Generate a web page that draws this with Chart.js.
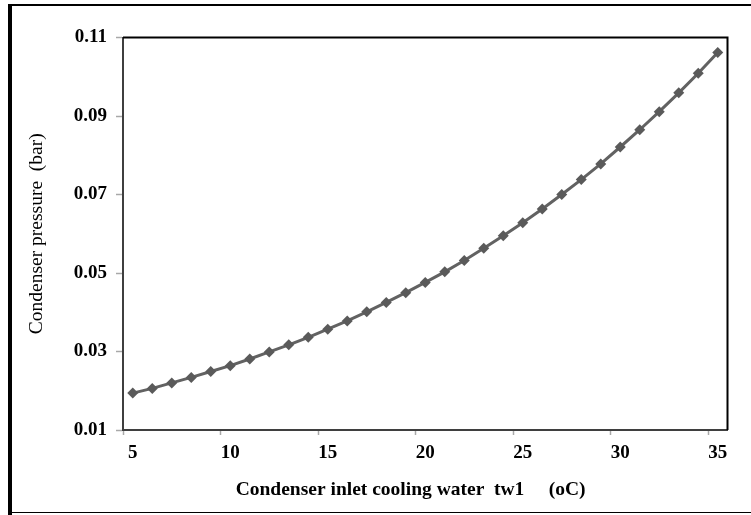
<!DOCTYPE html>
<html>
<head>
<meta charset="utf-8">
<script src="https://cdn.jsdelivr.net/npm/chart.js@4/dist/chart.umd.min.js"></script>
<style>
  html, body { margin: 0; padding: 0; background: #fff; }
  #wrap { width: 751px; height: 515px; position: relative; }
</style>
</head>
<body>
<div id="wrap"><canvas id="c" width="751" height="515"></canvas></div>
<script>
// Condenser inlet cooling water temperature tw1 (oC)
const temperatures = [5,6,7,8,9,10,11,12,13,14,15,16,17,18,19,20,21,22,23,24,25,26,27,28,29,30,31,32,33,34,35];
// Condenser pressure (bar)
const pressures = [0.0194,0.0206,0.0220,0.0234,0.0249,0.0264,0.0281,0.0299,0.0317,0.0336,0.0357,0.0378,0.0401,0.0425,0.0450,0.0476,0.0503,0.0532,0.0563,0.0595,0.0628,0.0663,0.0700,0.0738,0.0778,0.0821,0.0865,0.0911,0.0959,0.1009,0.1062];
const xLabelEvery = 5;
const yTicks = [0.01, 0.03, 0.05, 0.07, 0.09, 0.11];

const PAD = { left: 14, right: 23.5, top: 37.5, bottom: 8 };
const CHART_LEFT = 123, CHART_BOTTOM = 430;

const framePlugin = {
  id: 'frame',
  beforeDraw(chart) {
    const c = chart.ctx;
    c.save();
    c.fillStyle = '#fff';
    c.fillRect(0, 0, chart.width, chart.height);
    c.restore();
  },
  afterDraw(chart) {
    const c = chart.ctx, a = chart.chartArea;
    c.save();
    c.strokeStyle = '#000';
    c.lineWidth = 2;
    c.beginPath();
    c.moveTo(a.left, a.top);
    c.lineTo(a.right, a.top);
    c.lineTo(a.right, a.bottom);
    c.stroke();
    c.lineWidth = 4;
    c.beginPath();
    c.moveTo(10, 4);
    c.lineTo(10, 515);
    c.stroke();
    c.lineWidth = 2;
    c.beginPath();
    c.moveTo(8, 5);
    c.lineTo(751, 5);
    c.stroke();
    c.lineWidth = 1.2;
    c.beginPath();
    c.moveTo(8, 512.5);
    c.lineTo(751, 512.5);
    c.stroke();
    c.restore();
  }
};

new Chart(document.getElementById('c'), {
  type: 'line',
  data: {
    labels: temperatures,
    datasets: [{
      data: pressures,
      borderColor: '#626262',
      backgroundColor: '#5a5a5a',
      borderWidth: 3,
      pointStyle: 'rectRot',
      pointRadius: 5.5,
      pointBorderWidth: 0,
      pointBackgroundColor: '#5a5a5a',
      tension: 0,
      clip: false
    }]
  },
  options: {
    responsive: false,
    animation: false,
    layout: { padding: PAD },
    plugins: { legend: { display: false }, tooltip: { enabled: false } },
    scales: {
      x: {
        type: 'category',
        offset: true,
        afterFit(s) { s.height = 515 - CHART_BOTTOM - PAD.bottom; },
        grid: {
          offset: true,
          drawOnChartArea: false,
          drawTicks: true,
          tickLength: 5,
          tickWidth: 1.5,
          tickColor: (ctx) => (ctx.index % xLabelEvery === 0 && ctx.index < temperatures.length) ? '#a8a8a8' : 'rgba(0,0,0,0)'
        },
        border: { color: '#3f3f3f', width: 2 },
        ticks: {
          autoSkip: false,
          maxRotation: 0,
          padding: 7,
          color: '#000',
          font: { family: 'Liberation Serif', weight: 'bold', size: 19 },
          callback: (v, i) => (i % xLabelEvery === 0 ? String(temperatures[i]) : '')
        },
        title: {
          display: true,
          text: 'Condenser inlet cooling water  tw1     (oC)      ',
          color: '#000',
          font: { family: 'Liberation Serif', weight: 'bold', size: 19.5 },
          padding: { top: 0, bottom: 5 }
        }
      },
      y: {
        min: yTicks[0],
        max: yTicks[yTicks.length - 1],
        afterFit(s) { s.width = CHART_LEFT - PAD.left; },
        afterBuildTicks(s) { s.ticks = yTicks.map(v => ({ value: v })); },
        grid: {
          drawOnChartArea: false,
          drawTicks: true,
          tickLength: 7,
          tickWidth: 1.5,
          tickColor: '#a8a8a8'
        },
        border: { color: '#3f3f3f', width: 2 },
        ticks: {
          padding: 9,
          color: '#000',
          font: { family: 'Liberation Serif', weight: 'bold', size: 19 },
          callback: (v) => Number(v).toFixed(2)
        },
        title: {
          display: true,
          text: 'Condenser pressure  (bar)',
          color: '#000',
          font: { family: 'Liberation Serif', size: 19.5 },
          padding: { top: 11, bottom: 0 }
        }
      }
    }
  },
  plugins: [framePlugin]
});
</script>
</body>
</html>
